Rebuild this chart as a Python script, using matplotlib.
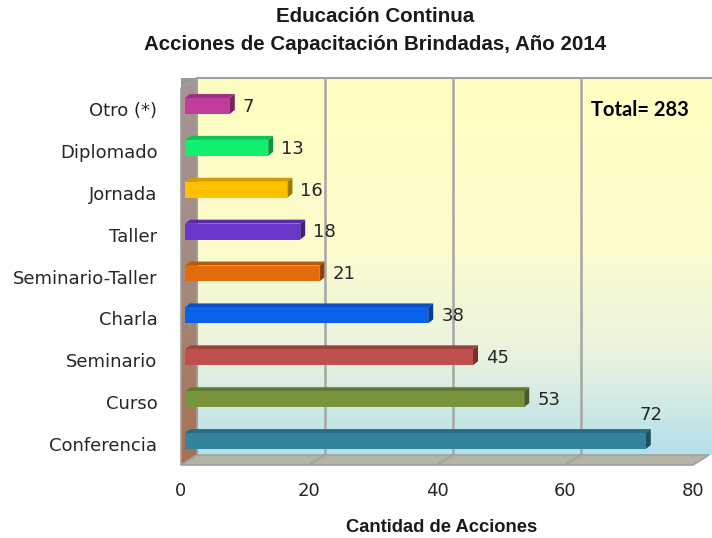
import numpy as np
import matplotlib
matplotlib.use("Agg")
import matplotlib.pyplot as plt
from matplotlib.patches import Polygon
from matplotlib.colors import to_rgb

# data, bottom to top
categories = ["Conferencia", "Curso", "Seminario", "Charla", "Seminario-Taller",
              "Taller", "Jornada", "Diplomado", "Otro (*)"]
values = [72, 53, 45, 38, 21, 18, 16, 13, 7]
colors = ["#31849B", "#77933C", "#C0504D", "#0A62EA", "#E36C0A",
          "#6A36C9", "#FFC000", "#12EE6E", "#C23C9E"]
xticks = [0, 20, 40, 60, 80]

W, H = 712, 538
fig = plt.figure(figsize=(W / 100, H / 100), dpi=100)
plt.rcParams['font.family'] = ['DejaVu Sans']

ax_w, ax_h = 512, 377
ax = fig.add_axes([181 / W, 73 / H, ax_w / W, ax_h / H])
XMAX = 80
YMIN, YMAX = -0.5, len(categories) - 0.5
px = XMAX / ax_w          # data units per pixel in x
py = (YMAX - YMIN) / ax_h  # data units per pixel in y

# depth of the walls (pixels)
DX, DY = 16 * px, 10 * py
edge = "#A0A0A0"

# back wall with a yellow -> light blue gradient
stops = [(0.0, "#FFFFC2"), (0.45, "#FCFCCE"), (0.75, "#E8F2E0"), (1.0, "#B4E0EA")]
n = 200
t = np.linspace(0, 1, n)
grad = np.zeros((n, 1, 3))
for c in range(3):
    grad[:, 0, c] = np.interp(t, [s[0] for s in stops], [to_rgb(s[1])[c] for s in stops])
ax.imshow(grad, extent=[DX, XMAX + DX + 3 * px, YMIN + DY, YMAX + DY], aspect="auto",
          zorder=0, clip_on=False, interpolation="bilinear")
ax.add_patch(Polygon([(DX, YMIN + DY), (DX, YMAX + DY), (XMAX + DX + 3 * px, YMAX + DY)],
                     closed=False, fill=False, edgecolor=edge, lw=1.5, zorder=1, clip_on=False))

# left wall
wall = Polygon([(0, YMIN), (0, YMAX), (DX, YMAX + DY), (DX, YMIN + DY)],
               facecolor="none", edgecolor=edge, lw=1.2, zorder=3, clip_on=False)
ax.add_patch(wall)
wstops = [(0.0, "#A39696"), (0.5, "#A58A80"), (1.0, "#A87052")]
wgrad = np.zeros((n, 1, 3))
for c in range(3):
    wgrad[:, 0, c] = np.interp(t, [s[0] for s in wstops], [to_rgb(s[1])[c] for s in wstops])
im = ax.imshow(wgrad, extent=[0, DX, YMIN, YMAX + DY], aspect="auto", zorder=2,
               clip_on=False, interpolation="bilinear")
im.set_clip_path(wall)

# floor
ax.add_patch(Polygon([(0, YMIN), (XMAX, YMIN), (XMAX + DX, YMIN + DY), (DX, YMIN + DY)],
                     facecolor="#B4B4A5", edgecolor=edge, lw=1.2, zorder=2, clip_on=False))

# gridlines on back wall and floor
for v in xticks[1:-1]:
    ax.plot([v + DX, v + DX], [YMIN + DY, YMAX + DY], color="#A6A6A6", lw=1.8,
            zorder=1, clip_on=False)
    ax.plot([v, v + DX], [YMIN, YMIN + DY], color="#A0A0A0", lw=1.2,
            zorder=2.5, clip_on=False)

# bars
BX, BY = 4 * px, 3 * py       # position of the bar front face
bdx, bdy = 5 * px, 4 * py     # bar depth
bh = 0.38
ypos = np.arange(len(categories))


def shade(col, f):
    r, g, b = to_rgb(col)
    return (r * f, g * f, b * f)


for i, (v, col) in enumerate(zip(values, colors)):
    yc = ypos[i] + BY
    yb, yt = yc - bh / 2, yc + bh / 2
    l, r = BX, BX + v
    ax.add_patch(Polygon([(l, yt), (r, yt), (r + bdx, yt + bdy), (l + bdx, yt + bdy)],
                         facecolor=shade(col, 0.82), edgecolor="none", zorder=5, clip_on=False))
    ax.add_patch(Polygon([(r, yb), (r, yt), (r + bdx, yt + bdy), (r + bdx, yb + bdy)],
                         facecolor=shade(col, 0.62), edgecolor="none", zorder=5, clip_on=False))
ax.barh(ypos + BY, values, left=BX, height=bh, color=colors, zorder=6)

# value labels
for i, v in enumerate(values):
    if v == max(values):
        ax.text(BX + v + bdx, ypos[i] + BY + 0.62, str(v), ha="center", va="center",
                fontsize=13, color="#262626", zorder=7)
    else:
        ax.text(BX + v + bdx + 8 * px, ypos[i] + BY - 0.02, str(v), ha="left", va="center",
                fontsize=13, color="#262626", zorder=7)

ax.set_xlim(0, XMAX)
ax.set_ylim(YMIN, YMAX)
ax.set_xticks(xticks)
ax.set_xticklabels([str(x) for x in xticks], fontsize=13, color="#262626")
ax.set_yticks(ypos)
ax.set_yticklabels(categories, fontsize=13, color="#262626")
ax.tick_params(axis="x", length=0, pad=12)
ax.tick_params(axis="y", length=0, pad=17)
for s in ax.spines.values():
    s.set_visible(False)
ax.set_facecolor("none")

fig.text(442 / W, 1 - 527 / H, "Cantidad de Acciones", ha="center", va="center",
         family="Liberation Sans", weight="bold", fontsize=13.2, color="#1a1a1a")

fig.text(375 / W, 1 - 17 / H, "Educación Continua", ha="center", va="center",
         family="Liberation Sans", weight="bold", fontsize=14.8, color="#1a1a1a")
fig.text(375 / W, 1 - 44 / H, "Acciones de Capacitación Brindadas, Año 2014", ha="center",
         va="center", family="Liberation Sans", weight="bold", fontsize=14.8, color="#1a1a1a")
fig.text(640 / W, 1 - 110 / H, "Total= 283", ha="center", va="center",
         family="Lato", weight="bold", fontsize=14.5, color="black")

fig.savefig("out.png", dpi=100)
